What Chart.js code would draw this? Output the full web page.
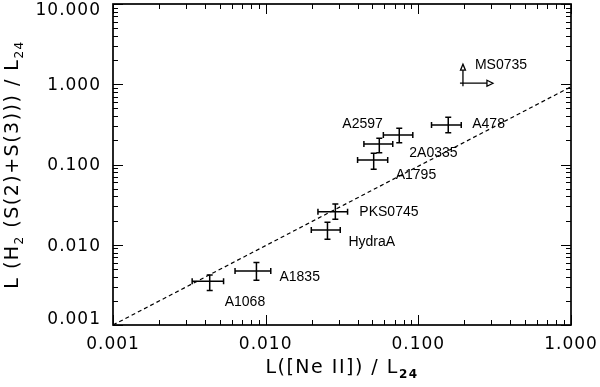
<!DOCTYPE html>
<html><head><meta charset="utf-8">
<script src="https://cdn.jsdelivr.net/npm/chart.js@4/dist/chart.umd.min.js"></script>
<style>html,body{margin:0;padding:0;background:#fff}#wrap{width:600px;height:387px;position:relative}</style>
</head><body><div id="wrap"><canvas id="c"></canvas></div>
<script>
// ---- data ----
const names = ['A1068','A1835','HydraA','PKS0745','A1795','A2597','2A0335','A478'];
const xVals = [0.0043, 0.0087, 0.0254, 0.0286, 0.051, 0.0555, 0.075, 0.157];
const xLow  = [0.0033, 0.0063, 0.0199, 0.0220, 0.040, 0.044, 0.059, 0.122];
const xHigh = [0.0053, 0.0108, 0.0308, 0.0344, 0.063, 0.068, 0.092, 0.191];
const yVals = [0.0035, 0.0047, 0.0153, 0.0258, 0.114, 0.180, 0.233, 0.310];
const yLow  = [0.0027, 0.0036, 0.0117, 0.0208, 0.087, 0.140, 0.187, 0.249];
const yHigh = [0.0042, 0.0060, 0.0191, 0.0322, 0.138, 0.212, 0.283, 0.387];
const limitNames = ['MS0735'];
const limitX = [0.196];
const limitY = [1.03];
const lineX = [0.001, 1.0];
const lineY = [0.001, 0.93];
const xTickVals = [0.001, 0.01, 0.1, 1];
const yTickVals = [0.001, 0.01, 0.1, 1, 10];
const xTitleParts = [['L([Ne II]) / L', 0], ['24', 2]];
const yTitleParts = [['L (H', 0], ['2', 1], [' (S(2)+S(3))) / L', 0], ['24', 1]];

// ---- styling (pixel offsets of the labels from their points) ----
const labelOffsets = {
  'A1068':[15,21], 'A1835':[23,6], 'HydraA':[21,12], 'PKS0745':[24,0],
  'A1795':[22,15], 'A2597':[-37,-20], '2A0335':[10,18], 'A478':[24,-1], 'MS0735':[12,-18]
};

const pts = names.map((n,i)=>({x:xVals[i], y:yVals[i]}));
const linePts = lineX.map((x,i)=>({x, y:lineY[i]}));
const fmt = v => Number(v).toFixed(3);

const decor = {
  id:'decor',
  beforeDraw(chart){ chart.ctx.letterSpacing = '1px'; },
  afterDraw(chart){
    const ctx = chart.ctx, xs = chart.scales.x, ys = chart.scales.y, a = chart.chartArea;
    ctx.save();
    ctx.letterSpacing = '0px';
    ctx.strokeStyle = '#000'; ctx.lineWidth = 1.7;
    // frame
    ctx.strokeRect(a.left, a.top, a.right - a.left, a.bottom - a.top);
    // tick marks on all four sides
    ctx.lineWidth = 1;
    ctx.beginPath();
    for (let d = -3; d <= 0; d++) for (let m = 1; m <= 9; m++) {
      const v = m * Math.pow(10, d);
      if (v < xs.min - 1e-12 || v > xs.max + 1e-12) continue;
      const p = Math.round(xs.getPixelForValue(v)) + 0.5, L = m === 1 ? 10 : 5;
      ctx.moveTo(p, a.bottom); ctx.lineTo(p, a.bottom - L);
      ctx.moveTo(p, a.top); ctx.lineTo(p, a.top + L);
    }
    for (let d = -3; d <= 1; d++) for (let m = 1; m <= 9; m++) {
      const v = m * Math.pow(10, d);
      if (v < ys.min - 1e-12 || v > ys.max + 1e-12) continue;
      const p = Math.round(ys.getPixelForValue(v)) + 0.5, L = m === 1 ? 10 : 5;
      ctx.moveTo(a.left, p); ctx.lineTo(a.left + L, p);
      ctx.moveTo(a.right, p); ctx.lineTo(a.right - L, p);
    }
    ctx.stroke();

    // y tick labels (kept inside the axis span, as in the reference)
    ctx.fillStyle = '#000';
    ctx.letterSpacing = '1px';
    ctx.font = '17px "DejaVu Sans"';
    ctx.textAlign = 'right'; ctx.textBaseline = 'middle';
    yTickVals.forEach(v=>{
      const p = Math.min(Math.max(ys.getPixelForValue(v) + 1.5, a.top + 7), a.bottom - 5);
      ctx.fillText(fmt(v), a.left - 12, p);
    });
    ctx.letterSpacing = '0px';

    // error bars
    ctx.lineWidth = 1.5; const cap = 3;
    ctx.beginPath();
    names.forEach((n,i)=>{
      const px = xs.getPixelForValue(xVals[i]), py = ys.getPixelForValue(yVals[i]);
      const x0 = xs.getPixelForValue(xLow[i]), x1 = xs.getPixelForValue(xHigh[i]);
      const y0 = ys.getPixelForValue(yLow[i]), y1 = ys.getPixelForValue(yHigh[i]);
      ctx.moveTo(x0, py); ctx.lineTo(x1, py);
      ctx.moveTo(x0, py-cap); ctx.lineTo(x0, py+cap);
      ctx.moveTo(x1, py-cap); ctx.lineTo(x1, py+cap);
      ctx.moveTo(px, y0); ctx.lineTo(px, y1);
      ctx.moveTo(px-cap, y0); ctx.lineTo(px+cap, y0);
      ctx.moveTo(px-cap, y1); ctx.lineTo(px+cap, y1);
    });
    ctx.stroke();

    // lower-limit arrows
    ctx.lineWidth = 1.3;
    limitNames.forEach((n,i)=>{
      const px = xs.getPixelForValue(limitX[i]), py = ys.getPixelForValue(limitY[i]);
      ctx.beginPath();
      ctx.moveTo(px, py+3); ctx.lineTo(px, py-13);
      ctx.moveTo(px-3, py); ctx.lineTo(px+24, py);
      ctx.stroke();
      ctx.beginPath();
      ctx.moveTo(px-2.5, py-13); ctx.lineTo(px, py-19); ctx.lineTo(px+2.5, py-13); ctx.closePath();
      ctx.moveTo(px+24, py-3); ctx.lineTo(px+30, py); ctx.lineTo(px+24, py+3); ctx.closePath();
      ctx.stroke();
    });

    // point labels
    ctx.font = '14px "Liberation Sans", Arial, sans-serif';
    ctx.textAlign = 'left'; ctx.textBaseline = 'middle';
    names.forEach((n,i)=>{
      const o = labelOffsets[n];
      ctx.fillText(n, xs.getPixelForValue(xVals[i]) + o[0], ys.getPixelForValue(yVals[i]) + o[1]);
    });
    limitNames.forEach((n,i)=>{
      const o = labelOffsets[n];
      ctx.fillText(n, xs.getPixelForValue(limitX[i]) + o[0], ys.getPixelForValue(limitY[i]) + o[1]);
    });

    // axis titles with subscripts
    const fonts = ['19px "DejaVu Sans"', '12px "DejaVu Sans"', 'bold 12px "DejaVu Sans"'];
    const drops = [0, 5, 5];
    function drawParts(parts){
      ctx.letterSpacing = '1.5px';
      let w = 0;
      parts.forEach(p=>{ ctx.font = fonts[p[1]]; w += ctx.measureText(p[0]).width; });
      let x = -w/2;
      ctx.textAlign = 'left'; ctx.textBaseline = 'alphabetic';
      parts.forEach(p=>{ ctx.font = fonts[p[1]]; ctx.fillText(p[0], x, drops[p[1]]); x += ctx.measureText(p[0]).width; });
    }
    ctx.save();
    ctx.translate((a.left + a.right)/2, 373);
    drawParts(xTitleParts);
    ctx.restore();
    ctx.save();
    ctx.translate(18, (a.top + a.bottom)/2);
    ctx.rotate(-Math.PI/2);
    drawParts(yTitleParts);
    ctx.restore();

    ctx.restore();
    ctx.letterSpacing = '0px';
  }
};

const tickFont = {family:'"DejaVu Sans"', size:17};
new Chart(document.getElementById('c'), {
  type:'scatter',
  data:{ datasets:[
    {label:'clusters', data:pts, pointRadius:0, pointHoverRadius:0, showLine:false},
    {type:'line', label:'1:1', data:linePts, borderColor:'#000', borderWidth:1.2, borderDash:[4,3], pointRadius:0, fill:false}
  ]},
  options:{
    responsive:true, maintainAspectRatio:false, animation:false,
    layout:{padding:{top:4, right:29, left:0, bottom:0}},
    plugins:{legend:{display:false}, tooltip:{enabled:false}},
    scales:{
      x:{type:'logarithmic', min:0.001, max:1,
        grid:{display:false, drawTicks:false}, border:{display:false},
        afterBuildTicks:s=>{ s.ticks = xTickVals.map(v=>({value:v})); },
        afterFit:s=>{ s.height = 62; s.paddingLeft = 0; s.paddingRight = 0; },
        ticks:{color:'#000', font:tickFont, padding:9, maxRotation:0, autoSkip:false, callback:fmt}},
      y:{type:'logarithmic', min:0.001, max:10,
        grid:{display:false, drawTicks:false}, border:{display:false},
        afterBuildTicks:s=>{ s.ticks = yTickVals.map(v=>({value:v})); },
        afterFit:s=>{ s.width = 113; s.paddingTop = 0; s.paddingBottom = 0; },
        ticks:{display:false, callback:fmt}}
    }
  },
  plugins:[decor]
});
</script></body></html>
